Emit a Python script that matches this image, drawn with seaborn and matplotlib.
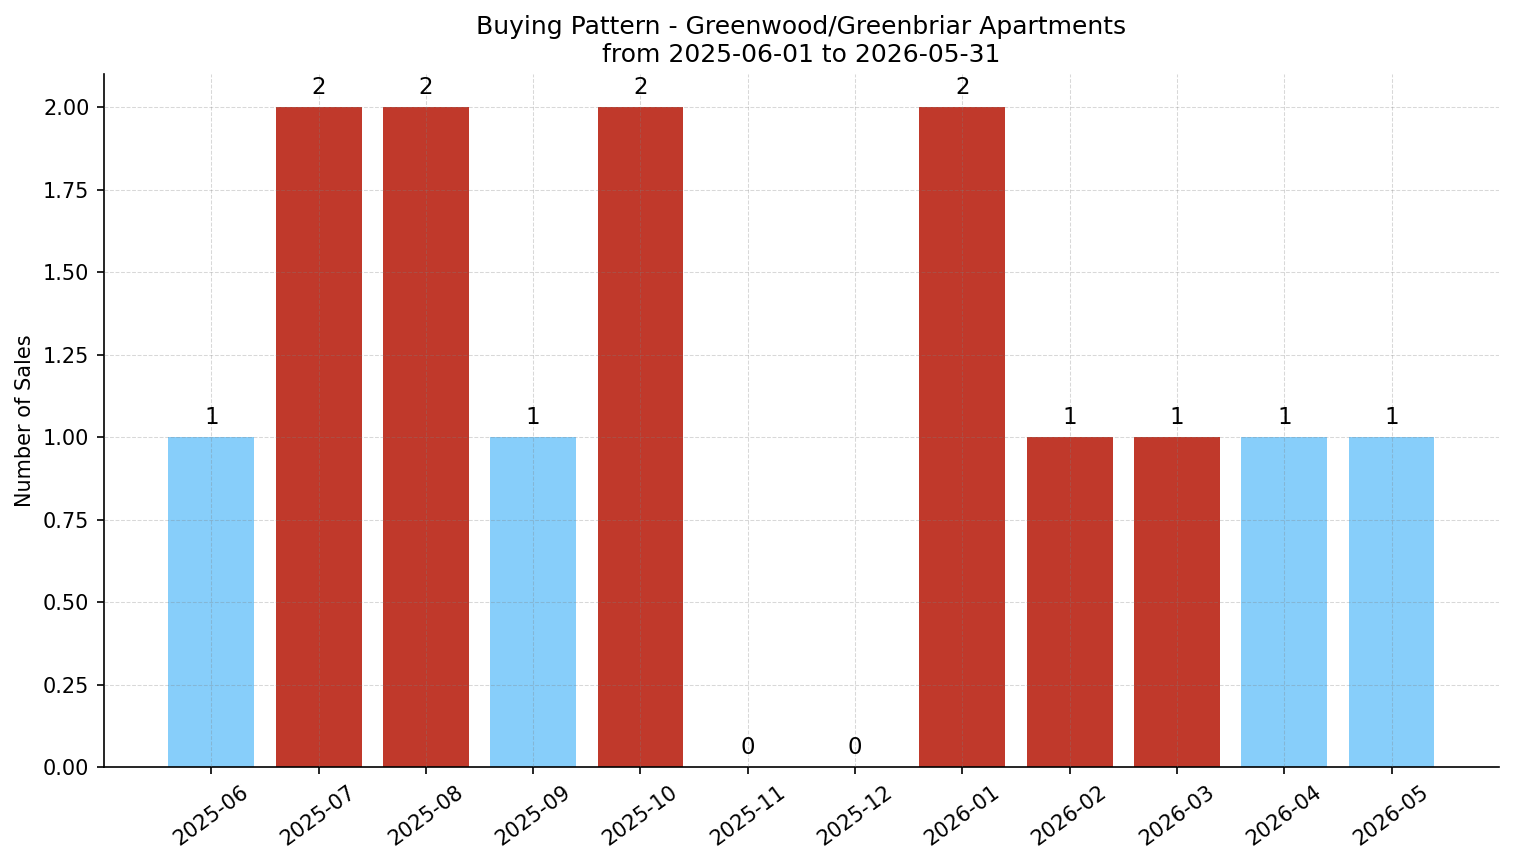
import matplotlib
matplotlib.use("Agg")
import matplotlib.pyplot as plt
import seaborn as sns
import pandas as pd

# monthly sales counts
months = ['2025-06', '2025-07', '2025-08', '2025-09', '2025-10', '2025-11',
          '2025-12', '2026-01', '2026-02', '2026-03', '2026-04', '2026-05']
sales = [1, 2, 2, 1, 2, 0, 0, 2, 1, 1, 1, 1]
# bar colour per month
bar_colors = ['#87CEFA', '#C0392B', '#C0392B', '#87CEFA', '#C0392B', '#C0392B',
              '#C0392B', '#C0392B', '#C0392B', '#C0392B', '#87CEFA', '#87CEFA']

df = pd.DataFrame({'month': months, 'sales': sales})

sns.set_style('ticks')
plt.rcParams['font.family'] = ['DejaVu Sans']
# plain black text and axes like matplotlib defaults
for key in ['text.color', 'axes.labelcolor', 'xtick.color', 'ytick.color', 'axes.edgecolor']:
    plt.rcParams[key] = 'black'

fig, ax = plt.subplots(figsize=(1514 / 150, 863 / 150), dpi=150)
fig.subplots_adjust(left=0.0687, right=0.990, top=0.914, bottom=0.111)

sns.barplot(data=df, x='month', y='sales', hue='month', palette=bar_colors,
            legend=False, width=0.8, saturation=1, linewidth=0, ax=ax)

# value labels above each bar
for c in ax.containers:
    ax.bar_label(c, fmt='%d', padding=4, fontsize=11)

ax.set_axisbelow(False)
ax.grid(True, linestyle='--', color='gray', alpha=0.3, linewidth=0.5)
sns.despine(ax=ax)

ax.set_xlim(-1, 12)
ax.set_ylim(0, 2.1)
ax.yaxis.set_major_formatter(matplotlib.ticker.FormatStrFormatter('%.2f'))
ax.set_xlabel('')
ax.set_ylabel('Number of Sales', fontsize=10)
ax.tick_params(axis='x', rotation=36, labelsize=10)
ax.tick_params(axis='y', labelsize=10)
ax.set_title('Buying Pattern - Greenwood/Greenbriar Apartments\nfrom 2025-06-01 to 2026-05-31',
             fontsize=12)

fig.savefig('out.png', dpi=150)
